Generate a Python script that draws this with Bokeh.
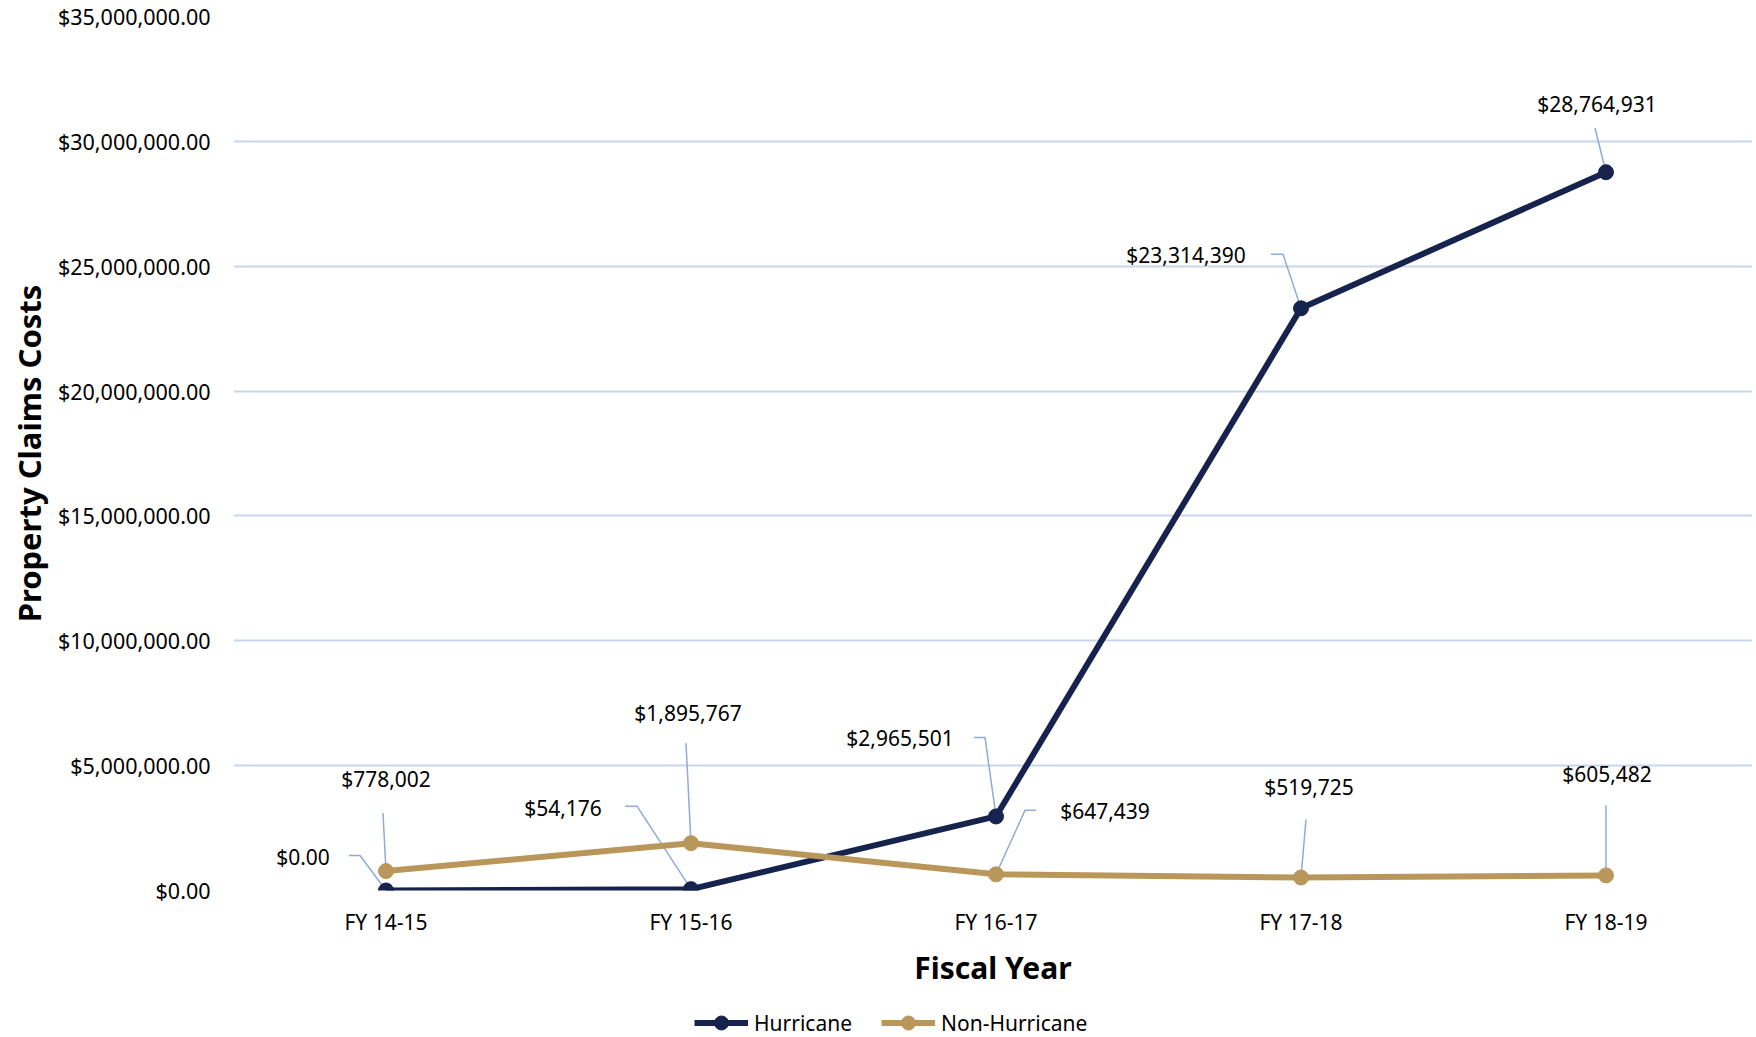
from bokeh.plotting import figure
from bokeh.layouts import column
from bokeh.models import Range1d, FixedTicker, NumeralTickFormatter, Legend, LegendItem, ColumnDataSource
from bokeh.core.properties import value
from bokeh.embed import file_html
from bokeh.resources import INLINE

# ---------------- data ----------------
fiscal_years = ["FY 14-15", "FY 15-16", "FY 16-17", "FY 17-18", "FY 18-19"]
hurricane = [0, 54176, 2965501, 23314390, 28764931]
non_hurricane = [778002, 1895767, 647439, 519725, 605482]
y_ticks = [0, 5000000, 10000000, 15000000, 20000000, 25000000, 30000000, 35000000]
series_names = ["Hurricane", "Non-Hurricane"]
x_title = "Fiscal Year"
y_title = "Property Claims Costs"

# ---------------- styling ----------------
NAVY = "#16234D"
GOLD = "#B9975B"
GRID = "#C9D5EF"
LEADER = "#8FAADC"
FONT = "Noto Sans"
LEFT, TOP, BOTTOM = 233, 16, 105
CANVAS_W = 1752
LEGEND_H = 40
FRAME_W, FRAME_H = CANVAS_W - LEFT, 874
PX_PER_CAT = 305
X_START = -0.5
X_END = X_START + FRAME_W / PX_PER_CAT
Y_MAX = 35000000

# data-label placement, pixel offsets from each point (label centre)
h_label_off = [(-83, -34), (-128, -81), (-96, -78), (-115, -53), (-9, -68)]
n_label_off = [(0, -92), (-3, -130), (109, -63), (8, -91), (1, -101)]
# leader-line paths, pixel offsets from each point
h_leader = [[(-37, -35), (-26, -35), (0, 0)], [(-66, -83), (-54, -83), (0, 0)],
            [(-22, -79), (-11, -79), (0, 0)], [(-30, -54), (-18, -54), (0, 0)],
            [(-11, -44), (0, 0)]]
n_leader = [[(-3, -58), (0, 0)], [(-5, -100), (0, 0)], [(40, -64), (29, -64), (0, 0)],
            [(5, -58), (0, 0)], [(0, -70), (0, 0)]]

x_idx = list(range(len(fiscal_years)))

p = figure(frame_width=FRAME_W, frame_height=FRAME_H,
           x_range=Range1d(X_START, X_END), y_range=Range1d(0, Y_MAX),
           output_backend="svg", toolbar_location=None,
           min_border_left=LEFT, min_border_right=0, min_border_top=TOP,
           min_border_bottom=BOTTOM)
p.outline_line_color = None
p.background_fill_color = "white"
p.border_fill_color = "white"

# grid
p.xgrid.grid_line_color = None
p.ygrid.grid_line_color = GRID
p.ygrid.grid_line_width = 2

# y axis
p.yaxis.ticker = FixedTicker(ticks=y_ticks)
p.yaxis.formatter = NumeralTickFormatter(format="$0,0.00")
p.yaxis.axis_line_color = None
p.yaxis.major_tick_line_color = None
p.yaxis.minor_tick_line_color = None
p.yaxis.major_tick_out = 0
p.yaxis.major_label_standoff = 23
p.yaxis.major_label_text_font = FONT
p.yaxis.major_label_text_font_size = "21.5px"
p.yaxis.major_label_text_color = "black"
p.yaxis.axis_label = y_title
p.yaxis.axis_label_text_font = FONT
p.yaxis.axis_label_text_font_style = "bold"
p.yaxis.axis_label_text_font_size = "31px"
p.yaxis.axis_label_text_color = "black"
p.yaxis.axis_label_standoff = 5

# x axis
p.xaxis.ticker = FixedTicker(ticks=x_idx)
p.xaxis.major_label_overrides = {i: fy for i, fy in enumerate(fiscal_years)}
p.xaxis.axis_line_color = None
p.xaxis.major_tick_line_color = None
p.xaxis.minor_tick_line_color = None
p.xaxis.major_tick_out = 0
p.xaxis.major_label_standoff = 17
p.xaxis.major_label_text_font = FONT
p.xaxis.major_label_text_font_size = "21px"
p.xaxis.major_label_text_color = "black"
p.xaxis.axis_label = x_title
p.xaxis.axis_label_text_font = FONT
p.xaxis.axis_label_text_font_style = "bold"
p.xaxis.axis_label_text_font_size = "30px"
p.xaxis.axis_label_text_color = "black"
p.xaxis.axis_label_standoff = 8

# leader lines (converted from pixel offsets to data units)
y_per_px = Y_MAX / FRAME_H
def leader_paths(vals, paths):
    xs, ys = [], []
    for i, (v, path) in enumerate(zip(vals, paths)):
        xs.append([i + dx / PX_PER_CAT for dx, dy in path])
        ys.append([v - dy * y_per_px for dx, dy in path])
    return xs, ys

for vals, paths in ((hurricane, h_leader), (non_hurricane, n_leader)):
    lx, ly = leader_paths(vals, paths)
    p.multi_line(lx, ly, line_color=LEADER, line_width=1.5)

# series
line_style = dict(line_width=6, line_join="round")
series = [(hurricane, NAVY), (non_hurricane, GOLD)]
for vals, color in series:
    p.line(x_idx, vals, line_color=color, **line_style)
    p.scatter(x_idx, vals, size=15, fill_color=color, line_color=color)

# data labels
def fmt(v):
    return "$0.00" if v == 0 else "${:,.0f}".format(v)

for vals, offs in ((hurricane, h_label_off), (non_hurricane, n_label_off)):
    src = ColumnDataSource(dict(
        x=x_idx, y=vals, t=[fmt(v) for v in vals],
        xo=[o[0] for o in offs], yo=[o[1] for o in offs]))
    p.text(x="x", y="y", text="t", x_offset="xo", y_offset="yo", source=src,
           text_align="center", text_baseline="middle",
           text_font=value(FONT), text_font_size="21px", text_color="black")

# ---------------- legend strip below the chart ----------------
# (same series drawn outside this strip's visible ranges, so only the legend shows)
lg = figure(width=CANVAS_W, height=LEGEND_H,
            x_range=Range1d(X_START, X_END), y_range=Range1d(-2, -1),
            output_backend="svg", toolbar_location=None,
            x_axis_location=None, y_axis_location=None,
            min_border_left=LEFT, min_border_right=0, min_border_top=0, min_border_bottom=0)
lg.outline_line_color = None
lg.grid.visible = False
items = []
for name, (vals, color) in zip(series_names, series):
    rl = lg.line(x_idx, vals, line_color=color, **line_style)
    rs = lg.scatter(x_idx, vals, size=15, fill_color=color, line_color=color)
    items.append(LegendItem(label=name, renderers=[rl, rs]))
legend = Legend(items=items, orientation="horizontal", location=(461, -5),
                glyph_width=54, glyph_height=35, label_standoff=6, spacing=29,
                padding=0, margin=0, border_line_color=None, background_fill_alpha=0,
                label_text_font=FONT, label_text_font_size="21px", label_text_color="black")
lg.add_layout(legend, "center")

layout = column(p, lg, spacing=0)
open("out.html", "w").write(file_html(layout, INLINE))
